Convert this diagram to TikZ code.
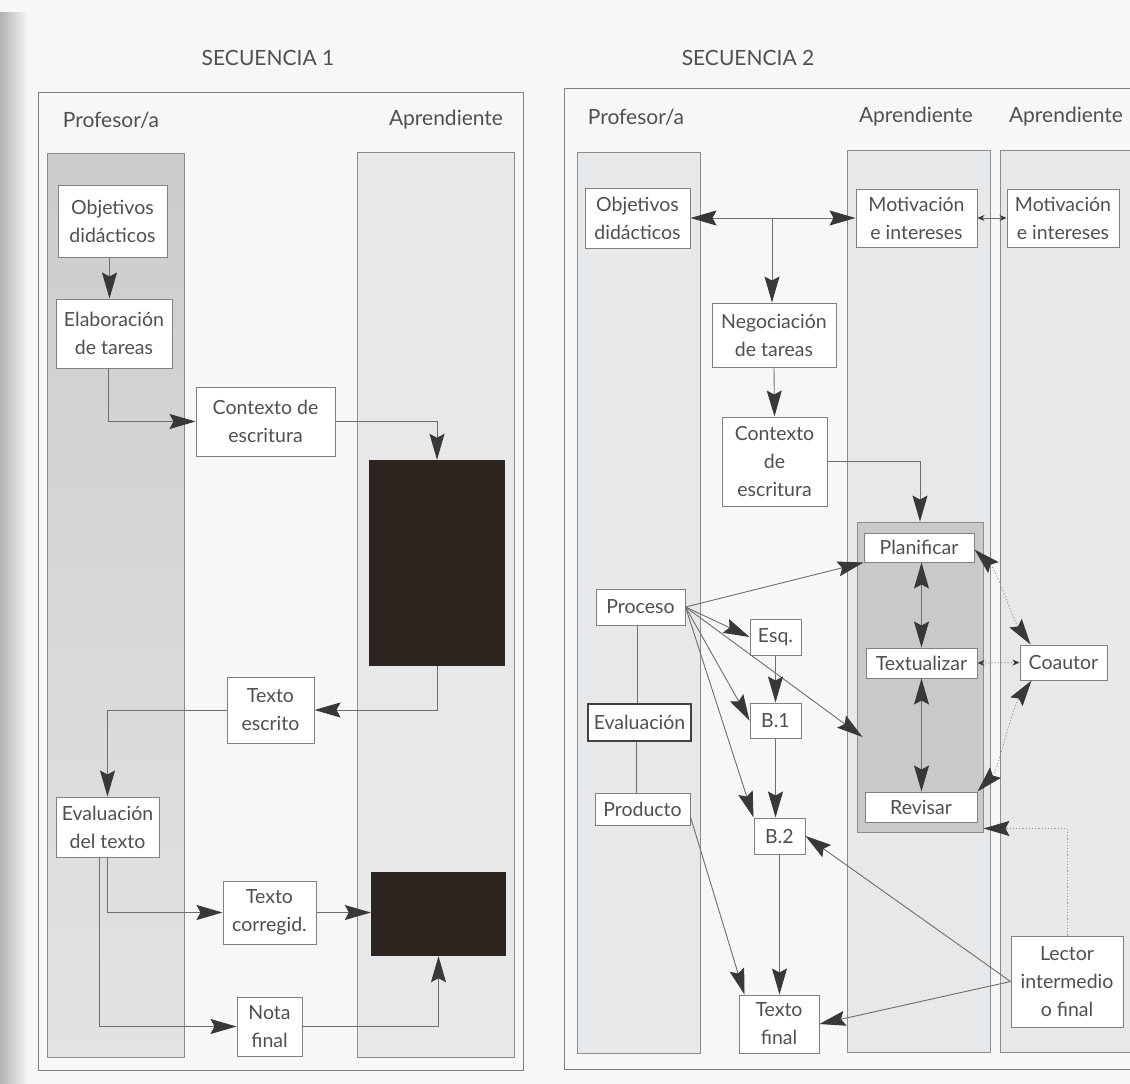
\documentclass[tikz,border=0pt]{standalone}
\usepackage{fontspec}
\setmainfont{Lato}
\usetikzlibrary{arrows.meta}
\definecolor{txt}{HTML}{505050}
\definecolor{boxc}{HTML}{808080}
\definecolor{linec}{HTML}{6E6E6E}
\definecolor{tipc}{HTML}{383838}
\definecolor{colf}{HTML}{E7E8EA}
\definecolor{colb}{HTML}{8C8C8C}
\definecolor{darkf}{HTML}{2B241F}
\definecolor{innf}{HTML}{C9C9CA}
\definecolor{pagef}{HTML}{F7F7F7}
\tikzset{
  bigtip/.tip={Stealth[length=26pt,width=15pt,inset=4pt,fill=tipc,color=tipc]},
  smalltip/.tip={Stealth[length=7pt,width=6pt,fill=tipc,color=tipc]},
  bx/.style={draw=boxc, fill=white, line width=1pt, align=center, inner sep=0pt,
    font=\fontsize{19.5}{28}\selectfont, text=txt},
  hd/.style={font=\fontsize{21}{26}\selectfont, text=txt, inner sep=0pt},
  col/.style={draw=colb, fill=colf, line width=0.8pt},
  frame/.style={draw=boxc, line width=1pt},
  ln/.style={draw=linec, line width=0.9pt},
  arr/.style={ln, -bigtip},
  arrboth/.style={ln, bigtip-bigtip},
  smallboth/.style={ln, smalltip-smalltip},
  dots/.style={draw=linec!70, line width=0.9pt, dash pattern=on 1.2pt off 2pt},
}
\begin{document}
\begin{tikzpicture}[x=1pt,y=-1pt]
\useasboundingbox (0,0) rectangle (1130,1084);
\clip (0,0) rectangle (1130,1084);
% page
\fill[pagef] (0,0) rectangle (1130,1084);
\shade[left color=black!30, right color=pagef] (0,12) rectangle (28,1084);

% ---------------- SECUENCIA 1 ----------------
\node[hd] (s1) at (268,58) {SECUENCIA 1};
\path[frame] (38,92) rectangle (523,1070);
\shade[top color=black!20, bottom color=black!11] (47,153) rectangle (184,1057);
\draw[colb, line width=0.8pt] (47,153) rectangle (184,1057);
\path[col] (357,152) rectangle (514,1057);
\node[hd] (p1) at (111,120) {Profesor/a};
\node[hd] (a1) at (446,120) {Aprendiente};

\node[bx, minimum width=109pt, minimum height=72pt] (o1) at (112.5,221) {Objetivos\\didácticos};
\node[bx, minimum width=116pt, minimum height=69pt] (e1) at (114,333.5) {Elaboración\\de tareas};
\node[bx, minimum width=139pt, minimum height=69pt] (c1) at (265.5,421.5) {Contexto de\\escritura};
\node[fill=darkf, inner sep=0pt, minimum width=136pt, minimum height=206pt] (k1) at (437,563) {};
\node[bx, minimum width=87pt, minimum height=66pt] (t1) at (270.5,710) {Texto\\escrito};
\node[bx, minimum width=103pt, minimum height=60pt] (v1) at (107.5,827) {Evaluación\\del texto};
\node[bx, minimum width=93pt, minimum height=63pt] (r1) at (269.5,912.5) {Texto\\corregid.};
\node[fill=darkf, inner sep=0pt, minimum width=135pt, minimum height=84pt] (k2) at (438.5,914) {};
\node[bx, minimum width=65pt, minimum height=59pt] (n1) at (269.5,1026.5) {Nota\\final};

\draw[arr] ([xshift=-3pt]o1.south) -- ([xshift=-3pt]o1.south |- e1.north);
\draw[arr] ([xshift=-6pt]e1.south) |- (c1.west);
\draw[arr] (c1.east) -| (k1.north);
\draw[arr] (k1.south) |- (t1.east);
\draw[arr] (t1.west) -| (v1.north);
\draw[arr] (v1.south) |- (r1.west);
\draw[arr] (r1.east) -- (r1.east -| k2.west);
\draw[arr] ([xshift=-8pt]v1.south) |- (n1.west);
\draw[arr] (n1.east) -| (k2.south);

% ---------------- SECUENCIA 2 ----------------
\node[hd] (s2) at (748,58) {SECUENCIA 2};
\path[frame] (564,88) rectangle (1145,1069);
\path[col] (577,152) rectangle (700,1053);
\path[col] (847,150) rectangle (990,1052);
\path[col] (1000,150) rectangle (1140,1052);
\node[hd] (p2) at (636,117) {Profesor/a};
\node[hd] (a2) at (916,117) {Aprendiente};
\node[hd] (a3) at (1066,117) {Aprendiente};

\node[draw=colb, fill=innf, line width=0.9pt, inner sep=0pt, minimum width=126pt, minimum height=310pt] (ib) at (920,677) {};

\node[bx, minimum width=105pt, minimum height=60pt] (o2) at (637.5,218) {Objetivos\\didácticos};
\node[bx, minimum width=121pt, minimum height=58pt] (m1) at (916.5,218) {Motivación\\e intereses};
\node[bx, minimum width=112pt, minimum height=58pt] (m2) at (1063,218) {Motivación\\e intereses};
\node[bx, minimum width=124pt, minimum height=64pt] (g) at (774,335) {Negociación\\de tareas};
\node[bx, minimum width=105pt, minimum height=89pt] (c2) at (774.5,461.5) {Contexto\\de\\escritura};
\node[bx, minimum width=110pt, minimum height=29pt] (pl) at (919,547.5) {Planificar};
\node[bx, minimum width=111pt, minimum height=30pt] (tx) at (921.5,663) {Textualizar};
\node[bx, minimum width=112pt, minimum height=30pt] (rv) at (921,807) {Revisar};
\node[bx, minimum width=87pt, minimum height=35pt] (co) at (1063.5,662.5) {Coautor};
\node[bx, minimum width=89pt, minimum height=36pt] (pr) at (640.5,607) {Proceso};
\node[bx, minimum width=51pt, minimum height=36pt] (es) at (775.5,637) {Esq.};
\node[bx, minimum width=51pt, minimum height=35pt] (b1) at (775.5,720.5) {B.1};
\node[bx, draw=black!75, line width=2.4pt, minimum width=103pt, minimum height=37pt] (ev) at (639.5,722.5) {Evaluación};
\node[bx, minimum width=95pt, minimum height=32pt] (pd) at (642.5,809) {Producto};
\node[bx, minimum width=51pt, minimum height=36pt] (b2) at (779.5,836) {B.2};
\node[bx, minimum width=80pt, minimum height=58pt] (tf) at (779,1024) {Texto\\final};
\node[bx, minimum width=112pt, minimum height=91pt] (lc) at (1067,981.5) {Lector\\intermedio\\o final};

\coordinate (jn) at (772,218);
\draw[arrboth] (o2.east) -- (m1.west);
\draw[arr] (jn) -- (jn |- g.north);
\draw[arr] (g.south) -- (c2.north);
\draw[arr] (c2.east) -| (ib.north);
\draw[smallboth] (m1.east) -- (m2.west);
\draw[arrboth] (tx.north |- pl.south) -- (tx.north);
\draw[arrboth] (tx.south) -- (tx.south |- rv.north);
\draw[dots, smalltip-smalltip] (tx.east) -- (co.west);
\draw[dots, bigtip-bigtip] ([yshift=-2pt]pl.east) .. controls (998,572) and (1012,618) .. ([xshift=11pt]co.north west);
\draw[dots, bigtip-bigtip] (rv.north east) .. controls (998,770) and (1012,708) .. ([xshift=12pt]co.south west);
\draw[dots, -bigtip] (lc.north) |- ([yshift=4pt]ib.south east);

\draw[arr] (pr.east) -- (pl.south west);
\draw[arr] (pr.east) -- (es.west);
\draw[arr] (pr.east) -- (b1.west);
\draw[arr] (pr.east) -- (b2.north west);
\draw[arr] (pr.east) -- ([xshift=6pt,yshift=-60pt]ib.west);
\draw[arr] (es.south) -- (b1.north);
\draw[arr] (b1.south) -- (b1.south |- b2.north);
\draw[arr] (b2.south) -- (b2.south |- tf.north);
\draw[ln] ([xshift=-3pt]pr.south) -- ([xshift=-3pt]pr.south |- ev.north);
\draw[ln] ([xshift=-3pt]ev.south) -- ([xshift=-3pt]ev.south |- pd.north);
\draw[arr] ([yshift=-8pt]pd.east) -- ([xshift=6pt]tf.north west);
\draw[arr] (lc.west) -- (b2.east);
\draw[arr] (lc.west) -- (tf.east);
\end{tikzpicture}
\end{document}
